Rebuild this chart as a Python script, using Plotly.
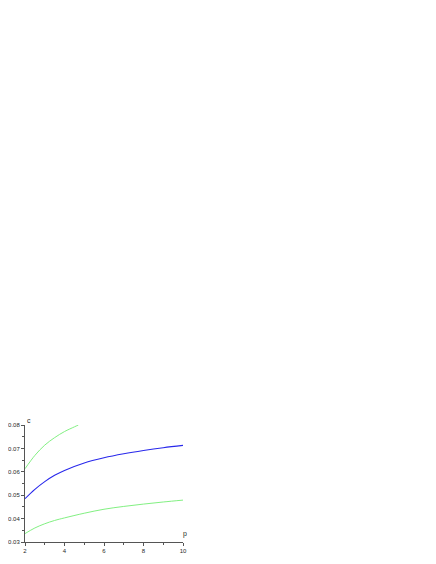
import plotly.graph_objects as go

p_mid = [2, 2.5, 3, 3.5, 4, 5, 6, 7, 8, 9, 10]
c_mid = [0.0485, 0.0525, 0.0558, 0.0585, 0.0606, 0.0638, 0.0660, 0.0677, 0.0691, 0.0703, 0.0713]

p_up = [2, 2.5, 3, 3.5, 4, 4.5, 4.7]
c_up = [0.0613, 0.0670, 0.0714, 0.0746, 0.0772, 0.0792, 0.0800]

p_low = [2, 2.5, 3, 3.5, 4, 5, 6, 7, 8, 9, 10]
c_low = [0.0336, 0.0360, 0.0378, 0.0392, 0.0403, 0.0423, 0.0440, 0.0452, 0.0462, 0.0471, 0.0479]

x_ticks = [2, 4, 6, 8, 10]
y_ticks = [0.03, 0.04, 0.05, 0.06, 0.07, 0.08]

green = 'rgb(130,240,130)'
blue = 'rgb(40,40,235)'
ink = 'rgb(40,40,40)'

fig = go.Figure()
fig.add_trace(go.Scatter(x=p_up, y=c_up, mode='lines', line=dict(color=green, width=1, shape='spline')))
fig.add_trace(go.Scatter(x=p_mid, y=c_mid, mode='lines', line=dict(color=blue, width=1.1, shape='spline')))
fig.add_trace(go.Scatter(x=p_low, y=c_low, mode='lines', line=dict(color=green, width=1, shape='spline')))

axis_style = dict(showgrid=False, zeroline=False, showline=True, linecolor='#555', linewidth=1,
                  ticks='outside', ticklen=3, tickcolor='#555', tickfont=dict(size=6, family='Arial', color=ink))
fig.update_xaxes(range=[2, 10], tickvals=x_ticks, ticktext=[str(v) for v in x_ticks],
                 minor=dict(tickvals=[3, 5, 7, 9], ticklen=2, tickcolor='#555', ticks='outside'), **axis_style)
fig.update_yaxes(range=[0.03, 0.08], tickvals=y_ticks, ticktext=['%.2f' % v for v in y_ticks],
                 minor=dict(tickvals=[0.035, 0.045, 0.055, 0.065, 0.075], ticklen=2, tickcolor='#555', ticks='outside'),
                 **axis_style)

fig.add_annotation(x=2, y=0.08, xref='x', yref='y', text='c', showarrow=False,
                   xshift=4, yshift=5, font=dict(size=7, family='Arial', color=ink))
fig.add_annotation(x=10, y=0.03, xref='x', yref='y', text='p', showarrow=False,
                   xshift=2, yshift=8, font=dict(size=7, family='Arial', color=ink))

fig.update_layout(width=436, height=564, showlegend=False, plot_bgcolor='white', paper_bgcolor='white',
                  margin=dict(l=17, r=261, t=417, b=30, autoexpand=False))
fig.write_html("out.html")
